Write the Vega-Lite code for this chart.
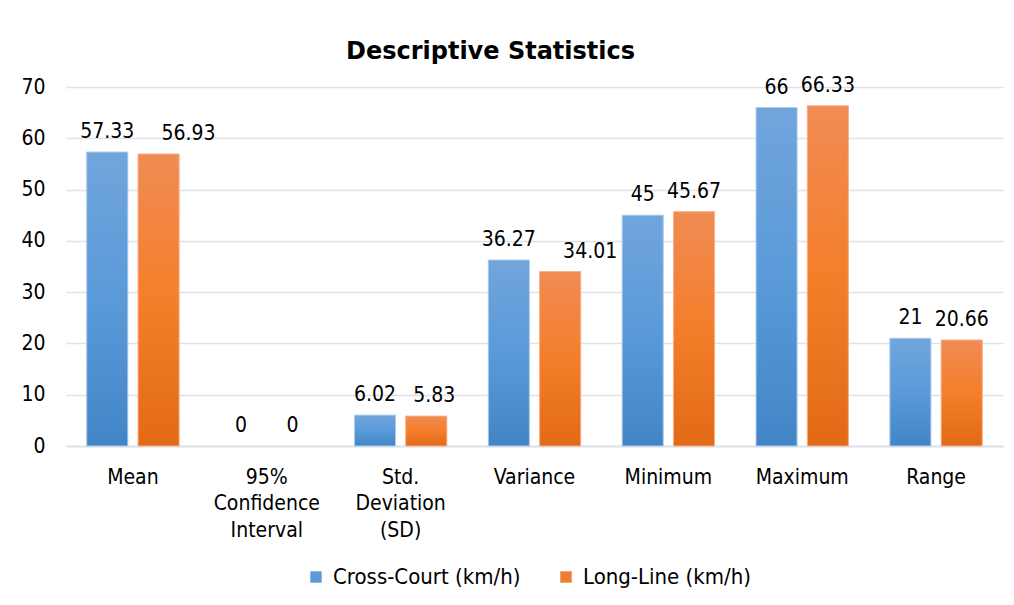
{
  "$schema": "https://vega.github.io/schema/vega-lite/v6.json",
  "width": 937,
  "height": 359,
  "autosize": {"type": "none"},
  "padding": {"left": 66, "top": 87, "right": 11, "bottom": 159},
  "background": "white",
  "title": {"text": "Descriptive Statistics", "font": "DejaVu Sans", "fontSize": 24, "fontWeight": "bold", "color": "#000000", "offset": 11, "anchor": "middle", "dx": -44},
  "config": {"view": {"stroke": null}, "font": "DejaVu Sans Condensed"},
  "data": {"values": [
    {"stat": "Mean", "series": "Cross-Court (km/h)", "value": 57.33},
    {"stat": "Mean", "series": "Long-Line (km/h)", "value": 56.93},
    {"stat": "95%|Confidence|Interval", "series": "Cross-Court (km/h)", "value": 0},
    {"stat": "95%|Confidence|Interval", "series": "Long-Line (km/h)", "value": 0},
    {"stat": "Std.|Deviation|(SD)", "series": "Cross-Court (km/h)", "value": 6.02},
    {"stat": "Std.|Deviation|(SD)", "series": "Long-Line (km/h)", "value": 5.83},
    {"stat": "Variance", "series": "Cross-Court (km/h)", "value": 36.27},
    {"stat": "Variance", "series": "Long-Line (km/h)", "value": 34.01},
    {"stat": "Minimum", "series": "Cross-Court (km/h)", "value": 45},
    {"stat": "Minimum", "series": "Long-Line (km/h)", "value": 45.67},
    {"stat": "Maximum", "series": "Cross-Court (km/h)", "value": 66},
    {"stat": "Maximum", "series": "Long-Line (km/h)", "value": 66.33},
    {"stat": "Range", "series": "Cross-Court (km/h)", "value": 21},
    {"stat": "Range", "series": "Long-Line (km/h)", "value": 20.66}
  ]},
  "encoding": {
    "x": {
      "field": "stat", "type": "nominal", "sort": null,
      "scale": {"paddingInner": 0.31, "paddingOuter": 0.155},
      "axis": {
        "title": null, "labelAngle": 0, "labelExpr": "split(datum.label, '|')",
        "labelFont": "DejaVu Sans Condensed", "labelFontSize": 21, "labelColor": "#000000", "labelLineHeight": 26.5,
        "labelBaseline": "top", "labelPadding": 20, "ticks": false,
        "domainColor": "#dde3ea", "domainWidth": 2, "grid": false
      }
    },
    "xOffset": {"field": "series", "type": "nominal", "sort": ["Cross-Court (km/h)", "Long-Line (km/h)"], "scale": {"paddingInner": 0.2}},
    "y": {
      "field": "value", "type": "quantitative",
      "scale": {"domain": [0, 70], "nice": false},
      "axis": {
        "title": null, "values": [0, 10, 20, 30, 40, 50, 60, 70],
        "labelFont": "DejaVu Sans Condensed", "labelFontSize": 21, "labelColor": "#000000", "labelPadding": 21,
        "ticks": false, "domain": false, "grid": true, "gridColor": "#dde3ea", "gridWidth": 1.5
      }
    }
  },
  "layer": [
    {
      "mark": {"type": "bar"},
      "encoding": {
        "color": {
          "field": "series", "type": "nominal",
          "sort": ["Cross-Court (km/h)", "Long-Line (km/h)"],
          "scale": {"range": ["#5b9bd5", "#ed7d31"]},
          "legend": {
            "title": null, "orient": "none", "legendX": 239, "legendY": 479, "direction": "horizontal",
            "symbolType": "square", "symbolSize": 130, "symbolStrokeWidth": 0,
            "labelFont": "DejaVu Sans Condensed", "labelFontSize": 22, "labelColor": "#000000", "labelLimit": 400,
            "labelOffset": 6, "columnPadding": 34
          }
        }
      }
    },
    {
      "transform": [{"filter": "datum.series === 'Cross-Court (km/h)' && datum.value > 0"}],
      "mark": {
        "type": "bar",
        "fill": {"gradient": "linear", "x1": 0, "y1": 0, "x2": 0, "y2": 1,
          "stops": [{"offset": 0, "color": "#71a5dc"}, {"offset": 0.5, "color": "#5a9ad9"}, {"offset": 1, "color": "#4285c6"}]},
        "stroke": "#b0cdef", "strokeWidth": 1
      }
    },
    {
      "transform": [{"filter": "datum.series === 'Long-Line (km/h)' && datum.value > 0"}],
      "mark": {
        "type": "bar",
        "fill": {"gradient": "linear", "x1": 0, "y1": 0, "x2": 0, "y2": 1,
          "stops": [{"offset": 0, "color": "#f08c54"}, {"offset": 0.5, "color": "#f47e2a"}, {"offset": 1, "color": "#e26a17"}]},
        "stroke": "#f8b08a", "strokeWidth": 1
      }
    },
    {
      "transform": [{"filter": "!(datum.series === 'Long-Line (km/h)' && (datum.stat === 'Mean' || datum.stat === 'Variance' || datum.stat === 'Std.|Deviation|(SD)'))"}],
      "mark": {"type": "text", "baseline": "alphabetic", "dy": -14, "font": "DejaVu Sans Condensed", "fontSize": 21, "color": "#000000"},
      "encoding": {"text": {"field": "value", "type": "quantitative", "format": "~g"}}
    },
    {
      "transform": [{"filter": "datum.series === 'Long-Line (km/h)' && (datum.stat === 'Mean' || datum.stat === 'Variance')"}],
      "mark": {"type": "text", "baseline": "alphabetic", "dy": -14, "dx": 30, "font": "DejaVu Sans Condensed", "fontSize": 21, "color": "#000000"},
      "encoding": {"text": {"field": "value", "type": "quantitative", "format": "~g"}}
    },
    {
      "transform": [{"filter": "datum.series === 'Long-Line (km/h)' && datum.stat === 'Std.|Deviation|(SD)'"}],
      "mark": {"type": "text", "baseline": "alphabetic", "dy": -14, "dx": 8, "font": "DejaVu Sans Condensed", "fontSize": 21, "color": "#000000"},
      "encoding": {"text": {"field": "value", "type": "quantitative", "format": "~g"}}
    }
  ]
}
